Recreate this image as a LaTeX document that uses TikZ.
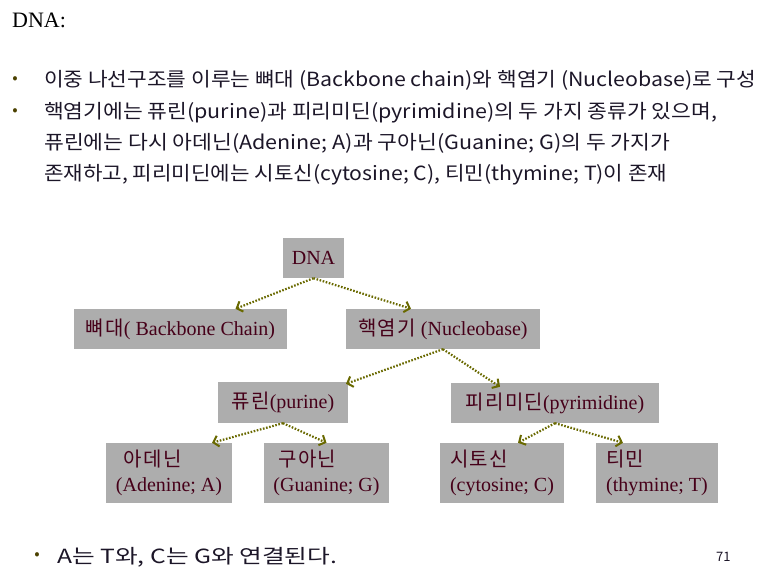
\documentclass[tikz,border=0pt]{standalone}
\usepackage{fontspec}
\usepackage{graphicx}
\setmainfont{Liberation Serif}
\newfontfamily\kr{Noto Sans CJK KR}
\newfontfamily\krb[LetterSpace=6]{Noto Sans CJK KR}
\usetikzlibrary{arrows.meta}
\definecolor{boxgray}{RGB}{173,173,173}
\definecolor{boxtext}{RGB}{70,0,25}
\definecolor{bodytext}{RGB}{28,22,40}
\definecolor{bulletcol}{RGB}{75,65,0}
\definecolor{arrowcol}{RGB}{105,105,0}
\newcommand{\fitw}[2]{\resizebox{#1}{\height}{#2}}
\begin{document}
\begin{tikzpicture}[x=1pt,y=-1pt,
  box/.style={fill=boxgray, inner sep=0pt, minimum height=40pt, text=boxtext,
    font=\fontsize{20}{25}\selectfont},
  tallbox/.style={box, minimum height=60pt, align=left},
  conn/.style={draw=arrowcol, line width=2.2pt, dash pattern=on 1.6pt off 1.6pt,
    -{Straight Barb[length=5pt,width=11pt,line width=2pt]}},
  body/.style={anchor=base west, inner sep=0pt, text=bodytext,
    font=\kr\fontsize{19.5}{22}\selectfont},
  bullet/.style={inner sep=0pt, text=bulletcol, font=\kr\fontsize{16}{16}\selectfont}
]
\useasboundingbox (0,0) rectangle (761,575);

% title
\node[anchor=base west, inner sep=0pt, font=\fontsize{22}{24}\selectfont, text=black] (title) at (12,28) {DNA:};

% bullets and body text
\node[bullet] (b1) at (15,80) {•};
\node[bullet] (b2) at (15,112) {•};
\node[body] (l1) at (44,87) {\fitw{712pt}{이중 나선구조를 이루는 뼈대 (Backbone chain)와 핵염기 (Nucleobase)로 구성}};
\node[body] (l2) at (44,119) {\fitw{673pt}{핵염기에는 퓨린(purine)과 피리미딘(pyrimidine)의 두 가지 종류가 있으며,}};
\node[body] (l3) at (44,150) {\fitw{626pt}{퓨린에는 다시 아데닌(Adenine; A)과 구아닌(Guanine; G)의 두 가지가}};
\node[body] (l4) at (44,181) {\fitw{623pt}{존재하고, 피리미딘에는 시토신(cytosine; C), 티민(thymine; T)이 존재}};

% tree boxes
\node[box, minimum width=61pt] (dna) at (313.5,258) {DNA};
\node[box, minimum width=213pt] (bb) at (180.5,329) {{\krb 뼈대}( Backbone Chain)};
\node[box, minimum width=194pt] (nb) at (443,329) {{\krb 핵염기} (Nucleobase)};
\node[box, minimum width=130pt, minimum height=41pt] (pu) at (283,402.5) {{\krb 퓨린}(purine)};
\node[box, minimum width=208pt] (py) at (555,403) {{\krb 피리미딘}(pyrimidine)};
\node[tallbox, minimum width=126pt] (ad) at (169,473) {\hspace{8pt}{\krb 아데닌}\\(Adenine; A)};
\node[tallbox, minimum width=125pt] (gu) at (326.5,473) {\hspace{5pt}{\krb 구아닌}\\(Guanine; G)};
\node[tallbox, minimum width=124pt] (cy) at (502,473) {{\krb 시토신}\\(cytosine; C)};
\node[tallbox, minimum width=122pt] (th) at (657,473) {{\krb 티민}\\(thymine; T)};

% connectors
\draw[conn] (dna.south) -- ([xshift=55pt]bb.north);
\draw[conn] (dna.south) -- ([xshift=-32pt]nb.north);
\draw[conn] (nb.south) -- ([xshift=63pt,yshift=-2pt]pu.north);
\draw[conn] (nb.south) -- ([xshift=-55pt,yshift=-4pt]py.north);
\draw[conn] (pu.south) -- ([xshift=43pt]ad.north);
\draw[conn] (pu.south) -- ([xshift=0pt]gu.north);
\draw[conn] (py.south) -- ([xshift=16pt]cy.north);
\draw[conn] (py.south) -- ([xshift=-34pt]th.north);

% bottom
\node[bullet] (b3) at (37,556) {•};
\node[body] (l5) at (57,563) {\fitw{280pt}{A는 T와, C는 G와 연결된다.}};
\node[anchor=base west, inner sep=0pt, text=bodytext, font=\kr\fontsize{13}{13}\selectfont] (pg) at (716,561) {71};
\end{tikzpicture}
\end{document}
